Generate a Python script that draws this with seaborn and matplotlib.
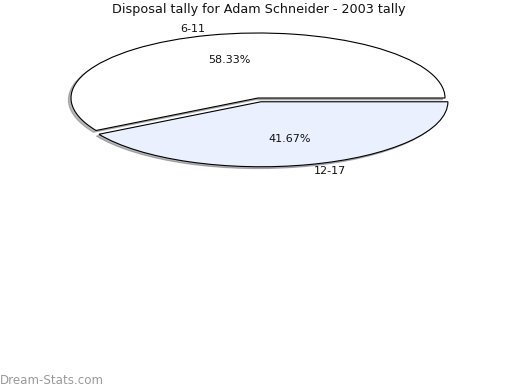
import matplotlib
matplotlib.use("Agg")
import matplotlib.pyplot as plt
import seaborn as sns

categories = ["6-11", "12-17"]
values = [58.33, 41.67]
colors = ["#FFFFFF", "#EAF0FE"]
title = "Disposal tally for Adam Schneider - 2003 tally"

sns.set_theme(style="white")
plt.rcParams["font.family"] = ["DejaVu Sans"]

W, H = 520, 390
fig = plt.figure(figsize=(W / 100, H / 100), dpi=100)

cx, cy = 258, 98       # pie centre in pixels (from top)
rx, ry = 187, 65       # radii in pixels
lx, ly = 1.35, 1.45
left = (cx - lx * rx) / W
width = 2 * lx * rx / W
bottom = (H - (cy + ly * ry)) / H
height = 2 * ly * ry / H
ax = fig.add_axes([left, bottom, width, height])

wedges, texts, autotexts = ax.pie(
    values, labels=categories, colors=colors, startangle=0,
    explode=[0, 0.06], autopct="%.2f%%", pctdistance=0.6, labeldistance=1.1,
    shadow={"ox": -0.01, "oy": -0.02, "shade": 0.55},
    wedgeprops={"edgecolor": "black", "linewidth": 0.8},
    textprops={"fontsize": 8, "color": "#111111"},
)
ax.set_aspect("auto")
ax.set_xlim(-lx, lx)
ax.set_ylim(-ly, ly)
ax.axis("off")

fig.text(cx / W + 0.002, 1 - 10 / H, title, ha="center", va="center", fontsize=9.2, color="#111111")
fig.text(0.0, 1 - 380 / H, "Dream-Stats.com", ha="left", va="center", fontsize=8.6,
         color="#9a9a9a")

fig.savefig("out.png", dpi=100)
